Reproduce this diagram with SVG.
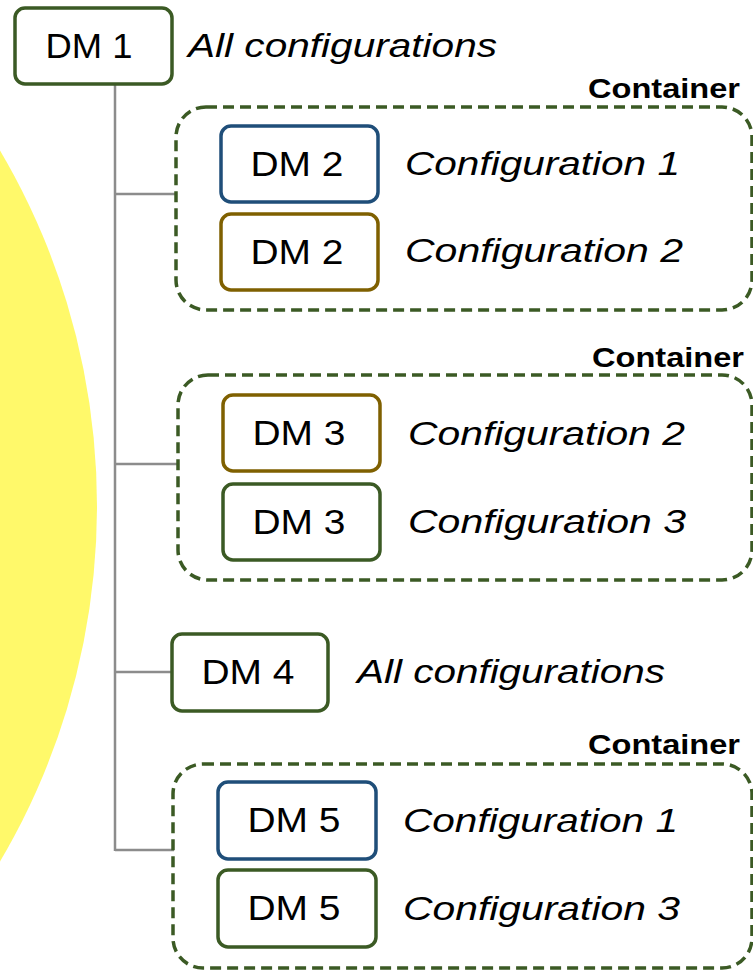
<svg xmlns="http://www.w3.org/2000/svg" width="753" height="970" viewBox="0 0 753 970">
<style>
.bg{fill:#ffffff}
.node{fill:#ffffff;stroke-width:3.5}
.g{stroke:#3b5a24}
.b{stroke:#1f4e79}
.o{stroke:#7f6000}
.cont{fill:none;stroke:#3b5a24;stroke-width:3.5;stroke-dasharray:11 6}
.conn{stroke:#8c8c8c;stroke-width:2.5;fill:none}
.dm{font-family:"Liberation Sans",Arial,sans-serif;font-size:35px;fill:#000;text-anchor:middle}
.cfg{font-family:"Liberation Sans",Arial,sans-serif;font-size:33px;font-style:italic;fill:#000}
.ct{font-family:"Liberation Sans",Arial,sans-serif;font-size:28px;font-weight:bold;fill:#000}
</style>
<rect class="bg" x="0" y="0" width="753" height="970"/>
<circle cx="-603" cy="506" r="700" fill="#fff96a"/>
<g id="connectors">
<path class="conn" d="M115 85 V851"/>
<path class="conn" d="M115 194 H177"/>
<path class="conn" d="M115 464 H179"/>
<path class="conn" d="M115 672 H173"/>
<path class="conn" d="M115 850 H174"/>
</g>
<g id="container1">
<rect class="cont" x="176" y="107" width="576" height="203" rx="30"/>
<text class="ct" x="588" y="98" textLength="152" lengthAdjust="spacingAndGlyphs">Container</text>
</g>
<g id="container2">
<rect class="cont" x="178" y="375" width="574" height="205" rx="30"/>
<text class="ct" x="592" y="367" textLength="152" lengthAdjust="spacingAndGlyphs">Container</text>
</g>
<g id="container3">
<rect class="cont" x="173" y="764" width="579" height="204" rx="30"/>
<text class="ct" x="588" y="754" textLength="152" lengthAdjust="spacingAndGlyphs">Container</text>
</g>
<g id="dm1">
<rect class="node g" x="15" y="8" width="157" height="76" rx="10"/>
<text class="dm" x="89" y="58" textLength="87" lengthAdjust="spacingAndGlyphs">DM 1</text>
<text class="cfg" x="188" y="57" textLength="309" lengthAdjust="spacingAndGlyphs">All configurations</text>
</g>
<g id="dm2-c1">
<rect class="node b" x="221" y="126" width="157" height="76" rx="10"/>
<text class="dm" x="297" y="176" textLength="93" lengthAdjust="spacingAndGlyphs">DM 2</text>
<text class="cfg" x="405" y="175" textLength="275" lengthAdjust="spacingAndGlyphs">Configuration 1</text>
</g>
<g id="dm2-c2">
<rect class="node o" x="221" y="214" width="157" height="76" rx="10"/>
<text class="dm" x="297" y="264" textLength="93" lengthAdjust="spacingAndGlyphs">DM 2</text>
<text class="cfg" x="405" y="262" textLength="278" lengthAdjust="spacingAndGlyphs">Configuration 2</text>
</g>
<g id="dm3-c2">
<rect class="node o" x="223" y="395" width="157" height="76" rx="10"/>
<text class="dm" x="299" y="445" textLength="93" lengthAdjust="spacingAndGlyphs">DM 3</text>
<text class="cfg" x="408" y="445" textLength="277" lengthAdjust="spacingAndGlyphs">Configuration 2</text>
</g>
<g id="dm3-c3">
<rect class="node g" x="223" y="484" width="157" height="76" rx="10"/>
<text class="dm" x="299" y="534" textLength="93" lengthAdjust="spacingAndGlyphs">DM 3</text>
<text class="cfg" x="408" y="533" textLength="278" lengthAdjust="spacingAndGlyphs">Configuration 3</text>
</g>
<g id="dm4">
<rect class="node g" x="172" y="634" width="156" height="77" rx="10"/>
<text class="dm" x="248" y="684" textLength="93" lengthAdjust="spacingAndGlyphs">DM 4</text>
<text class="cfg" x="357" y="683" textLength="308" lengthAdjust="spacingAndGlyphs">All configurations</text>
</g>
<g id="dm5-c1">
<rect class="node b" x="218" y="782" width="158" height="77" rx="10"/>
<text class="dm" x="294" y="832" textLength="93" lengthAdjust="spacingAndGlyphs">DM 5</text>
<text class="cfg" x="403" y="832" textLength="275" lengthAdjust="spacingAndGlyphs">Configuration 1</text>
</g>
<g id="dm5-c3">
<rect class="node g" x="218" y="870" width="158" height="77" rx="10"/>
<text class="dm" x="294" y="920" textLength="93" lengthAdjust="spacingAndGlyphs">DM 5</text>
<text class="cfg" x="403" y="920" textLength="277" lengthAdjust="spacingAndGlyphs">Configuration 3</text>
</g>
</svg>
